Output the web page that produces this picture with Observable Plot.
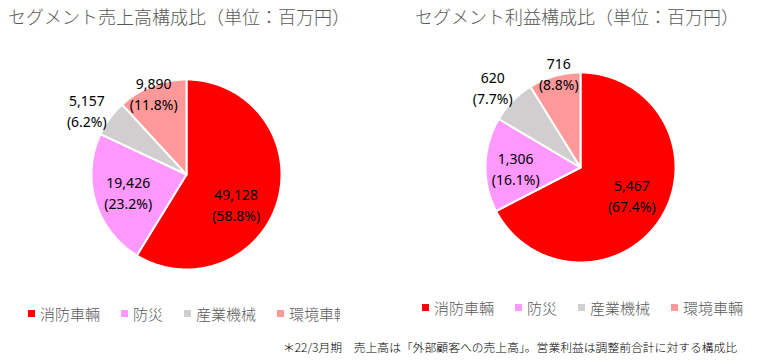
<!DOCTYPE html>
<html><head><meta charset="utf-8">
<script src="https://cdn.jsdelivr.net/npm/d3@7"></script>
<script src="https://cdn.jsdelivr.net/npm/@observablehq/plot@0.6"></script>
<style>
body{margin:0;background:#fff;}
#wrap{position:relative;width:757px;height:364px;overflow:hidden;font-family:"Noto Sans CJK JP",sans-serif;background:#fff;}
#wrap svg{position:absolute;left:0;top:0;}
.title{position:absolute;font-size:18px;line-height:1.3;color:#595959;font-weight:300;white-space:nowrap;}
.legend{position:absolute;font-size:15px;line-height:1.4;color:#595959;font-weight:300;white-space:nowrap;overflow:hidden;display:flex;align-items:center;gap:21px;}
.item{display:flex;align-items:center;flex:none;}
.sw{display:inline-block;width:7px;height:7px;margin-right:5px;}
.note{position:absolute;font-size:11.8px;line-height:1.3;color:#000;font-weight:300;white-space:nowrap;}
</style></head>
<body>
<div id="wrap"></div>
<script>
const segments = ["消防車輛", "防災", "産業機械", "環境車輛"];
const segmentColors = ["#FF0000", "#FF99FF", "#D0CECE", "#FF9999"];
const salesValues = [49128, 19426, 5157, 9890];
const salesPercents = [58.8, 23.2, 6.2, 11.8];
const profitValues = [5467, 1306, 620, 716];
const profitPercents = [67.4, 16.1, 7.7, 8.8];
const titles = ["セグメント売上高構成比（単位：百万円）", "セグメント利益構成比（単位：百万円）"];
const footnote = "＊22/3月期　売上高は「外部顧客への売上高」。営業利益は調整前合計に対する構成比";

const W = 757, H = 364, R = 95;
const charts = [
  {values: salesValues, percents: salesPercents, cx: 186, cy: 174,
   nudge: [[-7, 13], [0, 0], [-4, 6], [0, 2]]},
  {values: profitValues, percents: profitPercents, cx: 580, cy: 167,
   nudge: [[1, -3], [-4, 2], [-3, 2], [3, -8]]}
];
const labelRadius = [0.62, 0.64, 1.25, 0.95];

const marks = [];
const fmt = d3.format(",");
for (const c of charts) {
  const arcs = d3.pie().sort(null).value(d => d)(c.values);
  arcs.forEach((a, i) => {
    const pts = [{x: c.cx, y: c.cy}];
    const n = Math.max(4, Math.ceil((a.endAngle - a.startAngle) / 0.01));
    for (let k = 0; k <= n; k++) {
      const t = a.startAngle + (a.endAngle - a.startAngle) * k / n;
      pts.push({x: c.cx + R * Math.sin(t), y: c.cy - R * Math.cos(t)});
    }
    pts.push({x: c.cx, y: c.cy});
    marks.push(Plot.line(pts, {x: "x", y: "y", fill: segmentColors[i], stroke: "white", strokeWidth: 2, strokeLinejoin: "round"}));
  });
  const labels = arcs.map((a, i) => {
    const m = (a.startAngle + a.endAngle) / 2;
    const r = labelRadius[i] * R;
    return {
      x: c.cx + r * Math.sin(m) + c.nudge[i][0],
      y: c.cy - r * Math.cos(m) + c.nudge[i][1],
      text: fmt(c.values[i]) + "\n(" + c.percents[i].toFixed(1) + "%)"
    };
  });
  marks.push(Plot.text(labels, {x: "x", y: "y", text: "text", fontSize: 14, lineHeight: 1.5, fill: "#000", fontFamily: "Noto Sans, sans-serif", lineAnchor: "middle"}));
}

const svg = Plot.plot({
  width: W, height: H, margin: 0,
  x: {domain: [0, W], range: [0, W], axis: null},
  y: {domain: [0, H], range: [0, H], axis: null},
  style: {background: "transparent"},
  marks
});
const wrap = document.getElementById("wrap");
wrap.appendChild(svg);

function addTitle(text, left, top) {
  const d = document.createElement("div");
  d.className = "title"; d.textContent = text;
  d.style.left = left + "px"; d.style.top = top + "px";
  wrap.appendChild(d);
}
addTitle(titles[0], 8, 5);
addTitle(titles[1], 415, 5);

function addLegend(left, top, width) {
  const d = document.createElement("div");
  d.className = "legend";
  d.style.left = left + "px"; d.style.top = top + "px"; d.style.width = width + "px";
  segments.forEach((s, i) => {
    const it = document.createElement("span"); it.className = "item";
    const sw = document.createElement("span"); sw.className = "sw"; sw.style.background = segmentColors[i];
    const tx = document.createElement("span"); tx.textContent = s;
    it.appendChild(sw); it.appendChild(tx); d.appendChild(it);
  });
  wrap.appendChild(d);
}
addLegend(28, 303, 312);
addLegend(422, 297, 335);

const n = document.createElement("div");
n.className = "note"; n.textContent = footnote;
n.style.left = "283px"; n.style.top = "339px";
wrap.appendChild(n);
</script>
</body></html>
